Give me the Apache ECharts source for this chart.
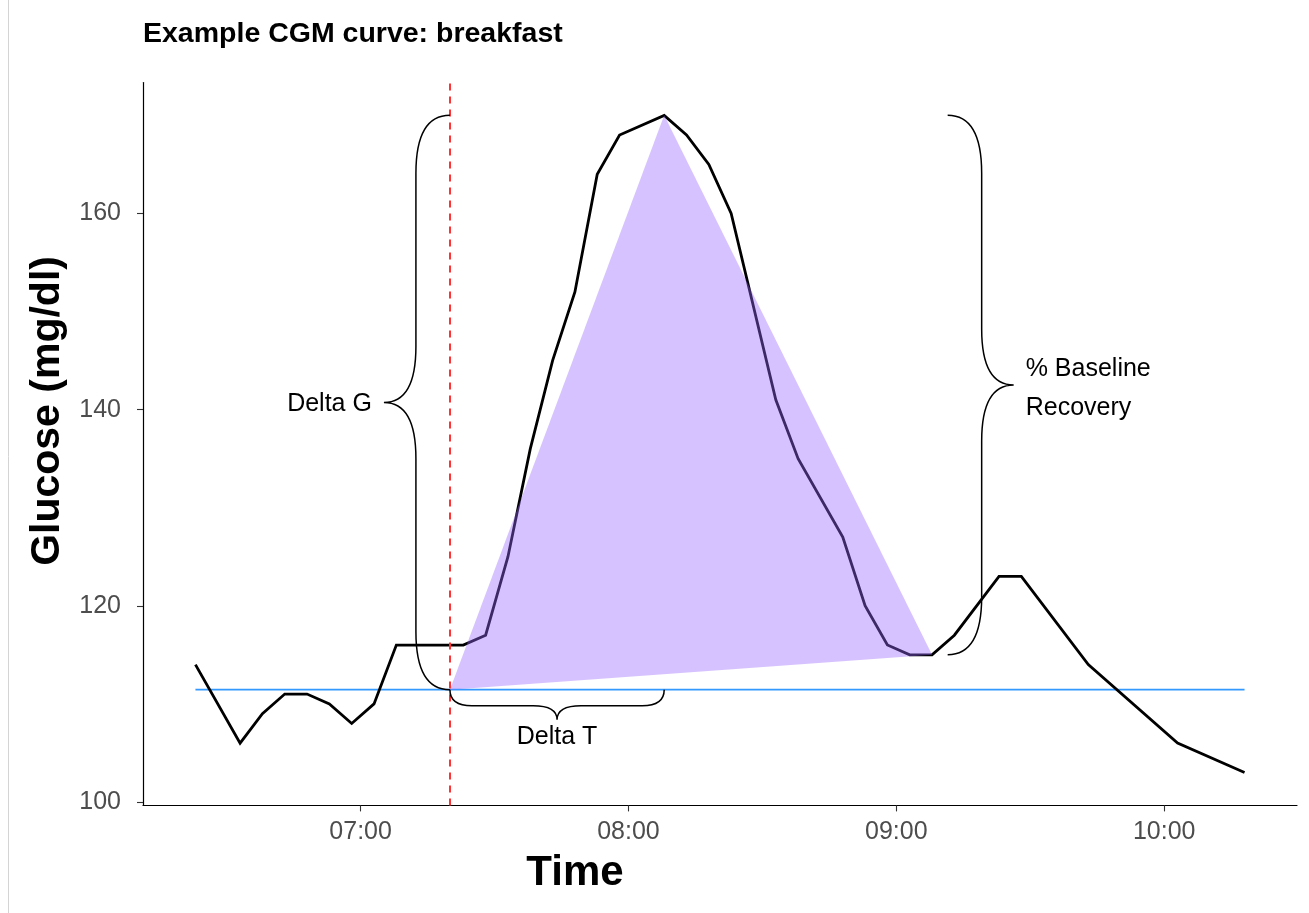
<!DOCTYPE html>
<html><head><meta charset="utf-8">
<script src="https://cdn.jsdelivr.net/npm/echarts@6/dist/echarts.min.js"></script>
<style>html,body{margin:0;padding:0;background:#fff}#c{width:1309px;height:913px}</style>
</head><body><div id="c"></div>
<script>
// ---- data ----
const times = ['06:23','06:33','06:38','06:43','06:48','06:53','06:58','07:03','07:08','07:23','07:28','07:33','07:38','07:43','07:48','07:53','07:58','08:08','08:13','08:18','08:23','08:33','08:38','08:48','08:53','08:58','09:03','09:08','09:13','09:23','09:28','09:43','10:03','10:18'];
const glucose = [114,106,109,111,111,110,108,110,116,116,117,125,136,145,152,164,168,170,168,165,160,141,135,127,120,116,115,115,117,123,123,114,106,103];
const xTickLabels = ['07:00','08:00','09:00','10:00'];
const yTickValues = [100,120,140,160];
const baselineValue = 111.45;
const mealTime = '07:20';
const peakTime = '08:08';
const peakValue = 170;
const recoveryTime = '09:08';
const recoveryValue = 115;
const recoveryBraceTime = '09:11.5';
const xRange = ['06:11.25','10:29.75'];
const yRange = [99.65,173.35];

// ---- helpers ----
function toMin(s){ const p=s.split(':'); return (+p[0])*60 + parseFloat(p[1]); }
function fmt(m){ const h=Math.floor(m/60), mm=Math.round(m-h*60); return String(h).padStart(2,'0')+':'+String(mm).padStart(2,'0'); }

const lineData = times.map((t,i)=>[toMin(t), glucose[i]]);
const baselineData = [[toMin(times[0]), baselineValue],[toMin(times[times.length-1]), baselineValue]];
const triangle = [[toMin(mealTime), baselineValue],[toMin(peakTime), peakValue],[toMin(recoveryTime), recoveryValue]];
const braces = [
  {dir:'left',  a:[toMin(mealTime), peakValue], b:[toMin(mealTime), baselineValue], label:'Delta G'},
  {dir:'down',  a:[toMin(mealTime), baselineValue], b:[toMin(peakTime), baselineValue], label:'Delta T'},
  {dir:'right', a:[toMin(recoveryBraceTime), peakValue], b:[toMin(recoveryBraceTime), recoveryValue], label:'% Baseline\nRecovery'}
];

const FONT = '"Liberation Sans", Arial, sans-serif';

function braceShape(br, api){
  const A = api.coord(br.a), B = api.coord(br.b);
  let d, tx, ty, align, va;
  if (br.dir === 'down'){
    const spine=16, tip=30, r1=22, r2=24;
    const y=A[1], x1=A[0], x2=B[0], ys=y+spine, yt=y+tip, xm=(x1+x2)/2;
    d = `M${x1} ${y} Q${x1} ${ys} ${x1+r1} ${ys} L${xm-r2} ${ys} Q${xm} ${ys} ${xm} ${yt} Q${xm} ${ys} ${xm+r2} ${ys} L${x2-r1} ${ys} Q${x2} ${ys} ${x2} ${y}`;
    tx = xm; ty = yt + 17; align='center'; va='middle';
  } else {
    const s = br.dir === 'left' ? -1 : 1;
    const spine=34, tip=66, r1=58, r2=56;
    const x=A[0], y1=Math.min(A[1],B[1]), y2=Math.max(A[1],B[1]);
    const xs=x+s*spine, xt=x+s*tip, ym=(y1+y2)/2;
    d = `M${x} ${y1} Q${xs} ${y1} ${xs} ${y1+r1} L${xs} ${ym-r2} Q${xs} ${ym} ${xt} ${ym} Q${xs} ${ym} ${xs} ${ym+r2} L${xs} ${y2-r1} Q${xs} ${y2} ${x} ${y2}`;
    tx = xt + s*12; ty = ym + (s>0 ? 4 : 2); align = s<0 ? 'right' : 'left'; va='middle';
  }
  return {type:'group', children:[
    {type:'path', shape:{pathData:d}, style:{fill:'none', stroke:'#000', lineWidth:1.5}},
    {type:'text', x:tx, y:ty, style:{text:br.label, fill:'#000', fontSize:25, fontFamily:FONT, align:align, verticalAlign:va, lineHeight:39}}
  ]};
}

const chart = echarts.init(document.getElementById('c'), null, {renderer:'canvas'});
const option = {
  backgroundColor:'#fff',
  animation:false,
  title:{text:'Example CGM curve: breakfast', left:138, top:15,
    textStyle:{fontFamily:FONT, fontWeight:'bold', fontSize:28.5, color:'#000'}},
  grid:{left:143, right:12, top:82.5, bottom:107.6, outerBoundsMode:'none'},
  xAxis:{type:'value', min:toMin(xRange[0]), max:toMin(xRange[1]),
    name:'Time', nameLocation:'middle', nameGap:47,
    nameTextStyle:{fontFamily:FONT, fontWeight:'bold', fontSize:42, color:'#000', padding:[0,290,0,0]},
    axisLine:{show:true, onZero:false, lineStyle:{color:'#000', width:1.2}},
    axisTick:{show:true, length:6, customValues:xTickLabels.map(toMin), lineStyle:{color:'#333', width:1.1}},
    axisLabel:{customValues:xTickLabels.map(toMin), formatter:v=>fmt(v), fontFamily:FONT, fontSize:25, color:'#4d4d4d', margin:14},
    splitLine:{show:false}},
  yAxis:{type:'value', min:yRange[0], max:yRange[1],
    name:'Glucose (mg/dl)', nameLocation:'middle', nameGap:69, nameRotate:90,
    nameTextStyle:{fontFamily:FONT, fontWeight:'bold', fontSize:41, color:'#000', padding:[0,0,0,66]},
    axisLine:{show:true, onZero:false, lineStyle:{color:'#000', width:1.2}},
    axisTick:{show:true, length:6, customValues:yTickValues, lineStyle:{color:'#333', width:1.1}},
    axisLabel:{customValues:yTickValues, fontFamily:FONT, fontSize:25, color:'#4d4d4d', margin:22},
    splitLine:{show:false}},
  graphic:[{type:'line', shape:{x1:8.5,y1:0,x2:8.5,y2:913}, style:{stroke:'#d4d4d4', lineWidth:1}, silent:true}],
  series:[
    {type:'line', name:'baseline', data:baselineData, symbol:'none', silent:true, z:2,
      lineStyle:{color:'#3399ff', width:1.6}},
    {type:'line', name:'glucose', data:lineData, symbol:'none', silent:true, z:3,
      lineStyle:{color:'#000', width:2.8, join:'miter'}},
    {type:'custom', name:'triangle', data:triangle, z:4, silent:true,
      renderItem:(params, api)=>{
        if (params.dataIndex !== 0) return null;
        return {type:'polygon', shape:{points:triangle.map(p=>api.coord(p))}, style:{fill:'rgba(153,102,255,0.4)'}};
      }},
    {type:'line', name:'meal', data:[], z:5, silent:true,
      markLine:{silent:true, symbol:['none','none'], label:{show:false},
        lineStyle:{color:'#ff3333', type:[7,6], width:2},
        data:[{xAxis:toMin(mealTime)}]}},
    {type:'custom', name:'braces', data:braces.map((b,i)=>[b.a[0], b.a[1], i]), z:6, silent:true, clip:false,
      renderItem:(params, api)=>braceShape(braces[params.dataIndex], api)}
  ]
};
chart.setOption(option);
</script>
</body></html>
